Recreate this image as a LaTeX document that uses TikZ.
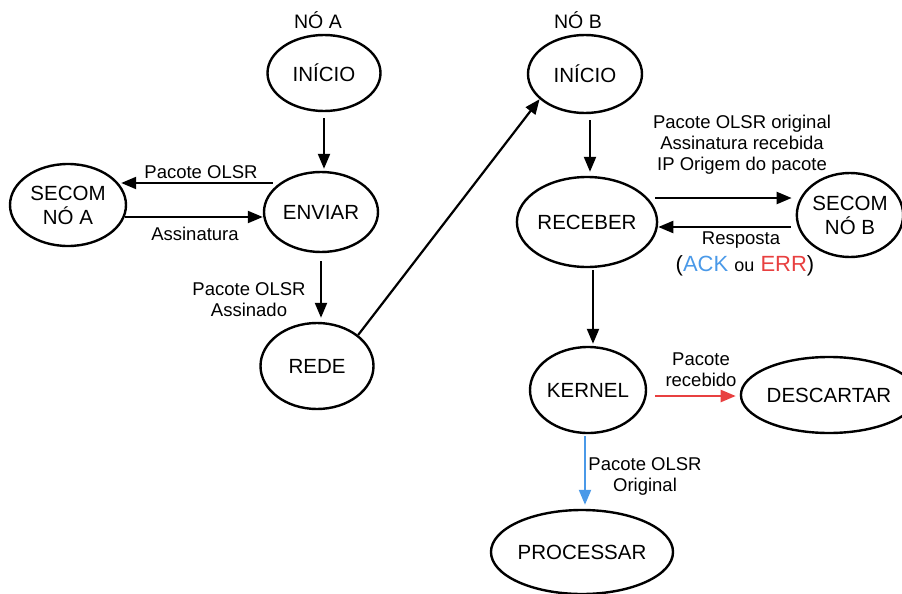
\documentclass[tikz,border=0pt]{standalone}
\usepackage{fontspec}
\setmainfont{Liberation Sans}
\usepackage{xcolor}
\usepackage{tikz}
\usetikzlibrary{arrows.meta, positioning, shapes.geometric}
\definecolor{ackblue}{rgb}{0.29, 0.60, 0.91}
\definecolor{errred}{rgb}{0.91, 0.25, 0.25}

\begin{document}
\begin{tikzpicture}[x=1pt, y=-1pt,
    state/.style={ellipse, draw, line width=2.4pt, inner sep=0pt, font=\fontsize{20.5}{22}\selectfont},
    lbl/.style={align=center, font=\fontsize{18.5}{21}\selectfont},
    arr/.style={-{Triangle[length=15pt,width=12pt]}, line width=2.2pt}]
      \useasboundingbox (0,0) rectangle (902,594);

      % No A
      \node[font=\fontsize{19.5}{22}\selectfont] (tituloA) at (318,20) {NÓ A};
      \node[state, minimum width=113pt, minimum height=76pt] (inicioA) at (324,73) {INÍCIO};
      \node[state, minimum width=114pt, minimum height=80pt] (enviar) at (321,212) {ENVIAR};
      \node[state, minimum width=116pt, minimum height=82pt, align=center,
            font=\fontsize{20.5}{24}\selectfont] (secomA) at (68,205) {SECOM\\NÓ A};
      \node[state, minimum width=113pt, minimum height=86pt] (rede) at (317,366) {REDE};

      % No B
      \node[font=\fontsize{19.5}{22}\selectfont] (tituloB) at (578,20) {NÓ B};
      \node[state, minimum width=114pt, minimum height=78pt] (inicioB) at (585,74) {INÍCIO};
      \node[state, minimum width=122pt, minimum height=90pt] (receber) at (587,222) {RECEBER};
      \node[state, minimum width=106pt, minimum height=84pt, align=center,
            font=\fontsize{20.5}{24}\selectfont] (secomB) at (850,215) {SECOM\\NÓ B};
      \node[state, minimum width=112pt, minimum height=86pt] (kernel) at (588,390) {KERNEL};
      \node[state, minimum width=146pt, minimum height=76pt] (descartar) at (829,395) {DESCARTAR};
      \node[state, minimum width=174pt, minimum height=84pt] (processar) at (582,552) {PROCESSAR};

      % ligacoes no A
      \draw[arr, shorten <=6pt, shorten >=2pt] (inicioA.south) -- ([xshift=3pt]enviar.north);
      \draw[arr] ([xshift=10pt,yshift=29pt]enviar.west) -- ([xshift=-6pt,yshift=22pt]secomA.east);
      \draw[arr] ([xshift=-2pt,yshift=-12pt]secomA.east) -- ([yshift=-5pt]enviar.west);
      \draw[arr, shorten <=8pt, shorten >=4pt] (enviar.south) -- ([xshift=4pt]rede.north);
      \node[lbl] (lblPacoteA) at (201,172) {Pacote OLSR};
      \node[lbl] (lblAssinatura) at (195,234) {Assinatura};
      \node[lbl] (lblAssinado) at (249,300) {Pacote OLSR\\Assinado};

      % rede ate o no B
      \draw[arr] (rede.37) -- (inicioB.209);

      % ligacoes no B
      \draw[arr, shorten <=6pt, shorten >=4pt] ([xshift=5pt]inicioB.south) -- ([xshift=3pt]receber.north);
      \draw[arr] ([xshift=-3pt,yshift=24pt]receber.east) -- ([xshift=-4pt,yshift=17pt]secomB.west);
      \draw[arr] ([xshift=-5pt,yshift=-12pt]secomB.west) -- ([yshift=-5pt]receber.east);
      \draw[arr, shorten <=2pt, shorten >=2pt] ([xshift=6pt]receber.south) -- ([xshift=5pt]kernel.north);
      \draw[arr, errred] ([xshift=8pt,yshift=-6pt]kernel.east) -- ([xshift=-4pt,yshift=-1pt]descartar.west);
      \draw[arr, ackblue, shorten <=2pt, shorten >=4pt] ([xshift=-3pt]kernel.south) -- ([xshift=3pt]processar.north);
      \node[lbl] (lblSecomB) at (742,145) {Pacote OLSR original\\Assinatura recebida\\IP Origem do pacote};
      \node[lbl] (lblResposta) at (741,240) {Resposta};
      \node[lbl, font=\fontsize{22}{24}\selectfont] (lblAckErr) at (745,266)
        {(\textcolor{ackblue}{ACK} {\fontsize{18}{20}\selectfont ou} \textcolor{errred}{ERR})};
      \node[lbl] (lblRecebido) at (701,370) {Pacote\\recebido};
      \node[lbl] (lblOriginal) at (645,476) {Pacote OLSR\\Original};
\end{tikzpicture}
\end{document}
